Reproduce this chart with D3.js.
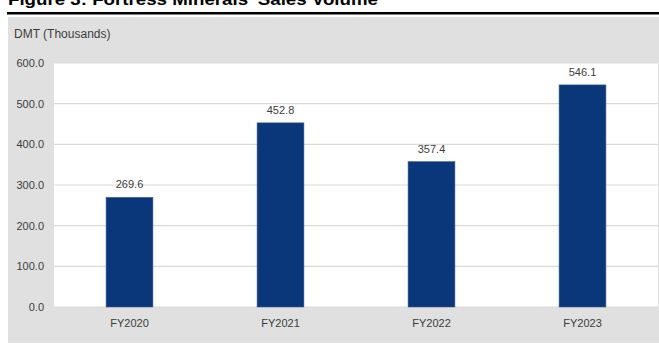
<!DOCTYPE html>
<html><head><meta charset="utf-8">
<script src="https://cdn.jsdelivr.net/npm/d3@7"></script>
<style>body{margin:0;background:#fff}svg{display:block}</style>
</head><body>
<svg id="c" width="659" height="344"></svg>
<script>
const categories = ["FY2020","FY2021","FY2022","FY2023"];
const values = [269.6, 452.8, 357.4, 546.1];
const yTicks = [0,100,200,300,400,500,600];
const title = "Figure 3: Fortress Minerals' Sales Volume";
const yAxisTitle = "DMT (Thousands)";

const svg = d3.select("#c");
const font = "'Liberation Sans', Arial, sans-serif";
// title (cut off at top, as in the reference)
svg.append("text").attr("x",8).attr("y",5).attr("font-family",font).attr("font-weight","bold")
  .attr("font-size",17).attr("textLength",370).attr("lengthAdjust","spacingAndGlyphs").attr("fill","#000").text(title);
svg.append("rect").attr("x",7).attr("y",12).attr("width",652).attr("height",2.5).attr("fill","#000");
// panel
svg.append("rect").attr("x",8).attr("y",17).attr("width",651).attr("height",326).attr("fill","#e0e0e0");

const x = d3.scaleBand().domain(categories).range([54,658]).paddingInner(0.69).paddingOuter(0.345);
const y = d3.scaleLinear().domain([0,600]).range([307,63]);

svg.append("rect").attr("x",54).attr("y",y(600)).attr("width",604).attr("height",y(0)-y(600)).attr("fill","#fff");

svg.append("g").selectAll("line").data(yTicks).join("line")
  .attr("x1",54).attr("x2",658).attr("y1",d=>y(d)).attr("y2",d=>y(d))
  .attr("stroke","#d9d9d9").attr("stroke-width",1.2);

const yAxis = svg.append("g").attr("transform","translate(54,0)")
  .call(d3.axisLeft(y).tickValues(yTicks).tickFormat(d3.format(".1f")).tickSize(0).tickPadding(10));
yAxis.select(".domain").remove();
yAxis.selectAll("text").attr("font-family",font).attr("font-size",11).attr("fill","#3c3c3c");

const xAxis = svg.append("g").attr("transform","translate(0,307)")
  .call(d3.axisBottom(x).tickSize(0).tickPadding(12));
xAxis.select(".domain").remove();
xAxis.selectAll("text").attr("font-family",font).attr("font-size",11).attr("fill","#3c3c3c");

svg.append("g").selectAll("rect").data(values).join("rect")
  .attr("x",(d,i)=>x(categories[i])).attr("width",x.bandwidth())
  .attr("y",d=>y(d)).attr("height",d=>y(0)-y(d))
  .attr("fill","#0a377a").attr("stroke","#3a5d95").attr("stroke-width",0.6);

svg.append("g").selectAll("text").data(values).join("text")
  .attr("x",(d,i)=>x(categories[i])+x.bandwidth()/2).attr("y",d=>y(d)-9)
  .attr("text-anchor","middle").attr("font-family",font).attr("font-size",11).attr("fill","#3c3c3c")
  .text(d=>d3.format(".1f")(d));

svg.append("text").attr("x",14).attr("y",38).attr("font-family",font).attr("font-size",12)
  .attr("fill","#3c3c3c").text(yAxisTitle);
</script>
</body></html>
